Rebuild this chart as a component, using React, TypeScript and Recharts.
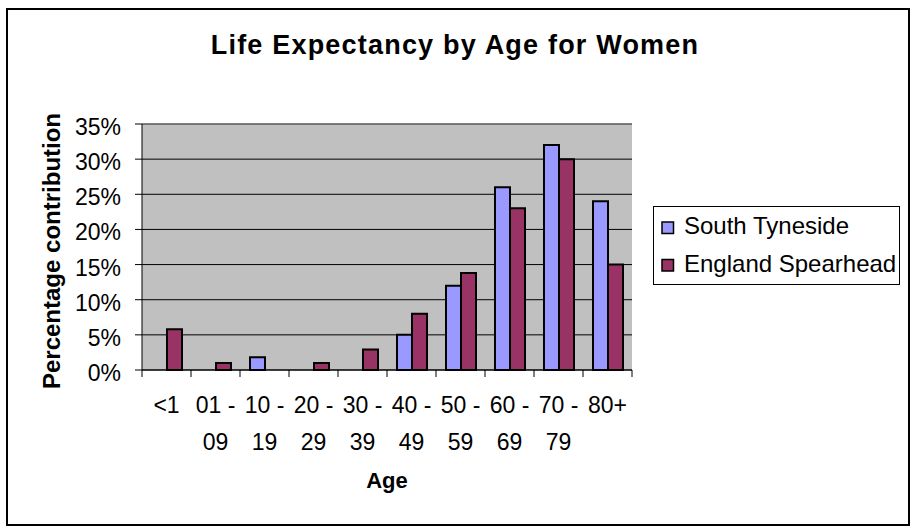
import { BarChart, Bar, XAxis, YAxis, CartesianGrid, ReferenceLine, Label } from "recharts";

const ageGroups = ["<1", "01 - 09", "10 - 19", "20 - 29", "30 - 39", "40 - 49", "50 - 59", "60 - 69", "70 - 79", "80+"];
const southTyneside = [0, 0, 1.8, 0, 0, 5, 12, 26, 32, 24];
const englandSpearhead = [5.8, 1, 0, 1, 2.9, 8, 13.8, 23, 30, 15];
const yTicks = [0, 5, 10, 15, 20, 25, 30, 35];
const seriesKeys = ["south", "england"];
const seriesNames = ["South Tyneside", "England Spearhead"];
const seriesColors = ["#9999FF", "#993366"];

const data = ageGroups.map((age, i) => ({
  age,
  south: southTyneside[i],
  england: englandSpearhead[i],
}));

const FONT = "'Liberation Sans', Arial, sans-serif";

// Excel style: ticks between categories, labels wrapped after the dash
function AgeTick(props: any) {
  const { x, y, payload, index, visibleTicksCount } = props;
  const half = payload.offset ?? 24.5;
  const parts = String(payload.value).split(" - ");
  const lines = parts.length > 1 ? [parts[0] + " -", parts[1]] : parts;
  return (
    <g>
      <line x1={x - half} x2={x - half} y1={y} y2={y + 7} stroke="#000" />
      {index === visibleTicksCount - 1 && (
        <line x1={x + half} x2={x + half} y1={y} y2={y + 7} stroke="#000" />
      )}
      {lines.map((t, i) => (
        <text key={i} x={x} y={y + 43 + i * 37} textAnchor="middle" fontSize={23} fill="#000" fontFamily={FONT}>
          {t}
        </text>
      ))}
    </g>
  );
}

function PercentTick(props: any) {
  const { x, y, payload } = props;
  return (
    <text x={x} y={y + 11} textAnchor="end" fontSize={23} fill="#000" fontFamily={FONT}>
      {payload.value}%
    </text>
  );
}

export default function App() {
  return (
    <div style={{ position: "absolute", left: 0, top: 0, width: 910, height: 527, background: "#fff" }}>
      <div
        style={{
          position: "absolute",
          left: 6,
          top: 8,
          width: 904,
          height: 518,
          border: "2.5px solid #000",
          boxSizing: "border-box",
        }}
      />
      <div style={{ position: "absolute", left: 0, top: 0 }}>
        <BarChart
          width={910}
          height={527}
          data={data}
          margin={{ top: 124, right: 278, bottom: 27, left: 0 }}
          barSize={15}
          barGap={0}
        >
          <CartesianGrid vertical={false} stroke="#000" fill="#C0C0C0" fillOpacity={1} />
          <XAxis
            dataKey="age"
            height={130}
            tickSize={0}
            tickMargin={0}
            tickLine={false}
            axisLine={{ stroke: "#000" }}
            interval={0}
            tick={<AgeTick />}
            label={
              <Label
                content={(p: any) => {
                  const vb = p.viewBox;
                  return (
                    <text x={vb.x + vb.width / 2} y={vb.y + 118} textAnchor="middle" fontSize={22} fontWeight="bold" fontFamily={FONT} fill="#000">
                      Age
                    </text>
                  );
                }}
              />
            }
          />
          <YAxis
            width={142}
            domain={[0, 35]}
            ticks={yTicks}
            tickSize={7}
            tickMargin={14}
            axisLine={{ stroke: "#000" }}
            tickLine={{ stroke: "#000" }}
            tick={<PercentTick />}
            label={
              <Label
                content={(p: any) => {
                  const vb = p.viewBox;
                  const cx = 60;
                  const cy = vb.y + vb.height / 2 + 4;
                  return (
                    <text
                      x={cx}
                      y={cy}
                      transform={`rotate(-90, ${cx}, ${cy})`}
                      textAnchor="middle"
                      fontSize={24}
                      fontWeight="bold"
                      fontFamily={FONT}
                      fill="#000"
                    >
                      Percentage contribution
                    </text>
                  );
                }}
              />
            }
          />
          <YAxis
            yAxisId="right"
            orientation="right"
            width={0}
            domain={[0, 35]}
            tick={false}
            tickLine={false}
            axisLine={{ stroke: "#808080" }}
          />
          <ReferenceLine y={35} stroke="#808080" />
          {seriesKeys.map((k, i) => (
            <Bar
              key={k}
              dataKey={k}
              name={seriesNames[i]}
              fill={seriesColors[i]}
              stroke="#000"
              strokeWidth={2}
              isAnimationActive={false}
            />
          ))}
        </BarChart>
      </div>
      <svg width={910} height={527} style={{ position: "absolute", left: 0, top: 0, pointerEvents: "none" }}>
        <text x={455} y={54} textAnchor="middle" fontSize={27} fontWeight="bold" letterSpacing={1.2} fontFamily={FONT} fill="#000">
          Life Expectancy by Age for Women
        </text>
        <rect x={653.5} y={206.5} width={246} height={78} fill="#fff" stroke="#000" strokeWidth={1} />
        {seriesNames.map((name, i) => (
          <g key={name}>
            <rect x={662} y={222 + i * 37.5} width={11.5} height={11.5} fill={seriesColors[i]} stroke="#000" strokeWidth={1.5} />
            <text x={684} y={234 + i * 38} fontSize={24} fontFamily={FONT} fill="#000">
              {name}
            </text>
          </g>
        ))}
      </svg>
    </div>
  );
}
